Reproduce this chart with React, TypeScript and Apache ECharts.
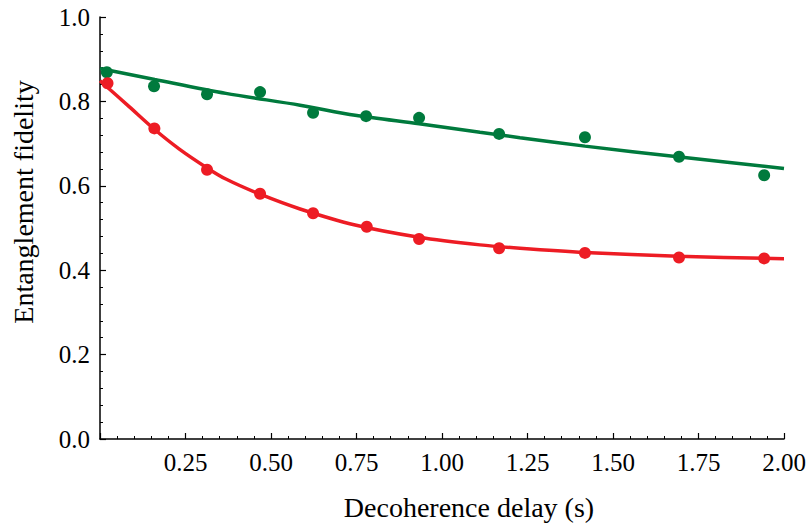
import React, { useEffect, useRef } from "react";
import * as echarts from "echarts";

// Measured data points
const greenPoints: [number, number][] = [
  [0.02, 0.869], [0.158, 0.836], [0.313, 0.817], [0.468, 0.822], [0.623, 0.773],
  [0.778, 0.765], [0.933, 0.761], [1.167, 0.723], [1.418, 0.715], [1.693, 0.669], [1.942, 0.625],
];
const redPoints: [number, number][] = [
  [0.022, 0.843], [0.159, 0.736], [0.313, 0.638], [0.468, 0.581], [0.623, 0.535],
  [0.78, 0.503], [0.933, 0.474], [1.167, 0.452], [1.418, 0.441], [1.693, 0.43], [1.942, 0.428],
];
// Fit curves
const greenFit: [number, number][] = [
  [0, 0.878], [0.16, 0.852], [0.368, 0.819], [0.585, 0.791], [0.746, 0.767],
  [0.933, 0.747], [1.111, 0.727], [1.228, 0.714], [1.418, 0.694], [1.696, 0.668], [2.0, 0.641],
];
const redFit: [number, number][] = [
  [0, 0.849], [0.086, 0.787], [0.159, 0.734], [0.232, 0.687], [0.312, 0.643],
  [0.368, 0.616], [0.468, 0.58], [0.585, 0.545], [0.746, 0.507], [0.933, 0.478],
  [1.111, 0.46], [1.228, 0.452], [1.418, 0.442], [1.69, 0.433], [2.0, 0.427],
];

const xTitle = "Decoherence delay (s)";
const yTitle = "Entanglement fidelity";

const GREEN = "#007A3D";
const RED = "#ED1C24";
const FONT = "Liberation Serif";

export default function App() {
  const ref = useRef<HTMLDivElement>(null);
  useEffect(() => {
    if (!ref.current) return;
    const chart = echarts.init(ref.current, undefined, { renderer: "svg" });
    const axisCommon = {
      axisLine: { show: true, lineStyle: { color: "#000", width: 1.5 } },
      axisTick: { show: true, inside: true, length: 6, lineStyle: { color: "#000", width: 1.2 } },
      minorTick: { show: true, splitNumber: 5, length: 3, lineStyle: { color: "#000", width: 1 } },
      splitLine: { show: false },
      minorSplitLine: { show: false },
    };
    chart.setOption({
      animation: false,
      backgroundColor: "#fff",
      grid: { left: 100, right: 25, top: 17, bottom: 86, containLabel: false },
      xAxis: {
        type: "value",
        min: 0,
        max: 2,
        interval: 0.25,
        ...axisCommon,
        axisLabel: {
          show: true,
          margin: 23,
          verticalAlign: "middle",
          color: "#000",
          fontFamily: FONT,
          fontSize: 25,
          showMinLabel: false,
          formatter: (v: number) => (v === 0 ? "" : v.toFixed(2)),
        },
      },
      yAxis: {
        type: "value",
        min: 0,
        max: 1,
        interval: 0.2,
        ...axisCommon,
        axisLabel: {
          show: true,
          margin: 10,
          color: "#000",
          fontFamily: FONT,
          fontSize: 25,
          formatter: (v: number) => v.toFixed(1),
        },
      },
      graphic: [
        {
          type: "text",
          x: 469,
          y: 507,
          style: {
            text: xTitle,
            fontFamily: FONT,
            fontSize: 28,
            fill: "#000",
            textAlign: "center",
            textVerticalAlign: "middle",
          },
        },
        {
          type: "text",
          x: 23,
          y: 202,
          rotation: Math.PI / 2,
          style: {
            text: yTitle,
            fontFamily: FONT,
            fontSize: 28,
            fill: "#000",
            textAlign: "center",
            textVerticalAlign: "middle",
          },
        },
      ],
      series: [
        {
          type: "line",
          data: greenFit,
          smooth: 0.3,
          showSymbol: false,
          lineStyle: { color: GREEN, width: 3.5 },
          z: 2,
        },
        {
          type: "line",
          data: redFit,
          smooth: 0.3,
          showSymbol: false,
          lineStyle: { color: RED, width: 3.5 },
          z: 2,
        },
        {
          type: "scatter",
          data: greenPoints,
          symbol: "circle",
          symbolSize: 12,
          itemStyle: { color: GREEN, opacity: 1 },
          z: 3,
        },
        {
          type: "scatter",
          data: redPoints,
          symbol: "circle",
          symbolSize: 12,
          itemStyle: { color: RED, opacity: 1 },
          z: 3,
        },
      ],
    });
    return () => chart.dispose();
  }, []);
  return (
    <div
      ref={ref}
      style={{ position: "fixed", left: 0, top: 0, width: 809, height: 525, background: "#fff" }}
    />
  );
}
